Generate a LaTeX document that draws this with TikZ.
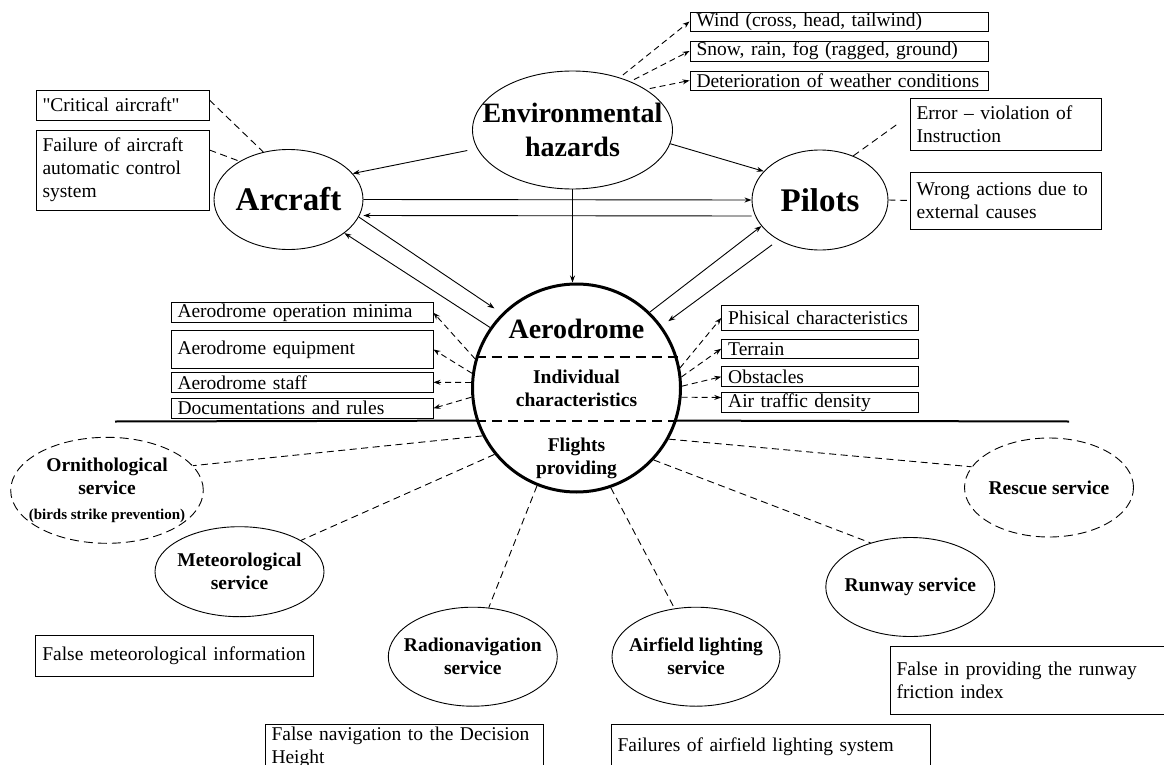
\documentclass[tikz,border=0pt]{standalone}
\usepackage{fontspec}
\setmainfont{Liberation Serif}[Ligatures=TeXOff]
\usetikzlibrary{arrows.meta, positioning, calc, shapes.geometric}

\begin{document}
\begin{tikzpicture}[
    x=1pt, y=-1pt,
    >={Stealth[length=7pt,width=5pt]},
    line width=0.9pt,
    hazard/.style={ellipse, draw, inner sep=0pt},
    service/.style={ellipse, draw, inner sep=0pt, minimum width=169pt, minimum height=99pt},
    optional/.style={dash pattern=on 9pt off 5pt},
    box/.style={draw, inner xsep=6.5pt, inner ysep=0pt, align=left, font=\fontsize{19.5}{23}\selectfont},
    big title/.style={font=\bfseries\fontsize{33}{38}\selectfont},
    mid title/.style={font=\bfseries\fontsize{28}{34}\selectfont, align=center},
    small title/.style={font=\bfseries\fontsize{19.5}{23}\selectfont, align=center},
    link/.style={dash pattern=on 7pt off 4.5pt},
    factor arrow/.style={->, dash pattern=on 6pt off 4pt}
]
    \clip (0,0) rectangle (1164,765);

    % Main elements
    \node[hazard, minimum width=200pt, minimum height=118pt] (env) at (572.5,130) {};
    \node[mid title] at (env) {Environmental\\hazards};
    \node[hazard, minimum width=149pt, minimum height=100pt] (arc) at (288.5,199.5) {};
    \node[big title] at (arc) {Arcraft};
    \node[hazard, minimum width=136pt, minimum height=100pt] (pil) at (820,200) {};
    \node[big title] at (pil) {Pilots};
    \node[circle, draw, line width=3pt, minimum size=208pt, inner sep=0pt] (aero) at (576.5,388) {};
    \node[mid title] at (576.5,329) {Aerodrome};
    \node[small title] at (576.5,388) {Individual\\characteristics};
    \node[small title] at (576.5,458) {Flights\\providing};

    % Parts of the aerodrome
    \draw[line width=2pt, dash pattern=on 10pt off 6pt] (aero.163.2) -- (aero.16.8 |- aero.163.2);
    \draw[line width=2pt, dash pattern=on 10pt off 6pt] (aero.198.8) -- (aero.-18.8 |- aero.198.8);
    \coordinate (div west) at (115,421.5);
    \coordinate (div east) at (1069,421.5);
    \draw[line width=2pt] (div west) -- (aero.198.8);
    \draw[line width=2pt] (aero.-18.8) -- (div east);

    % Factor boxes
    \node[box, text width=285pt, minimum height=19pt] (wind) at (839,21.5) {Wind (cross, head, tailwind)};
    \node[box, text width=285pt, minimum height=20pt] (snow) at (839,51) {Snow, rain, fog (ragged, ground)};
    \node[box, text width=285pt, minimum height=19pt] (deter) at (839,80.5) {Deterioration of weather conditions};
    \node[box, text width=160pt, minimum height=30pt] (crit) at (122.5,105) {"Critical aircraft"};
    \node[box, text width=160pt, minimum height=80pt] (fail) at (122.5,170) {Failure of aircraft\\automatic control\\system};
    \node[box, text width=178pt, minimum height=52pt] (err) at (1005.5,124) {Error – violation of\\Instruction};
    \node[box, text width=178pt, minimum height=57pt] (wrong) at (1005.5,200.5) {Wrong actions due to\\external causes};
    \node[box, text width=249pt, minimum height=20pt] (minima) at (302,312.7) {Aerodrome operation minima};
    \node[box, text width=249pt, minimum height=37.6pt] (equip) at (302,349.5) {Aerodrome equipment};
    \node[box, text width=249pt, minimum height=20pt] (staff) at (302,382.3) {Aerodrome staff};
    \node[box, text width=249pt, minimum height=20pt] (docs) at (302,408.3) {Documentations and rules};
    \node[box, text width=183.6pt, minimum height=25.7pt] (phys) at (820,317.9) {Phisical characteristics};
    \node[box, text width=183.6pt, minimum height=19.3pt] (terrain) at (820,348.7) {Terrain};
    \node[box, text width=183.6pt, minimum height=20pt] (obst) at (820,376.7) {Obstacles};
    \node[box, text width=183.6pt, minimum height=19.6pt] (traffic) at (820,402.5) {Air traffic density};

    % Environmental factors
    \draw[factor arrow, shorten <=4pt] (env.48.5) -- (wind.west);
    \draw[factor arrow, shorten <=4pt] (env.40.3) -- (snow.west);
    \draw[factor arrow, shorten <=4pt] (env.29) -- (deter.west);

    % Aircraft and pilot factors
    \draw[link] ([yshift=5pt]crit.east) -- (arc.118.7);
    \draw[link] ([yshift=20pt]fail.east) -- (arc.142);
    \draw[link] (pil.53.7) -- ([xshift=-12pt]err.west);
    \draw[link] (pil.east) -- (wrong.west);

    % Interactions
    \draw[->, shorten <=10pt] (env.191) -- (arc.22);
    \draw[->] (env.-8.3) -- (pil.153);
    \draw[->] (env.south) -- (env.south |- aero.north);
    \draw[->] (arc.east) -- (pil.west);
    \draw[->] ([yshift=-16pt]pil.west) -- ([yshift=-16pt]arc.east);
    \draw[->, shorten >=9pt] (arc.-14.3) -- (aero.135);
    \draw[->] (aero.145.7) -- (arc.-31.2);
    \draw[->] (aero.46.3) -- (pil.204);
    \draw[->, shorten <=8pt, shorten >=8pt] (pil.224.4) -- (aero.36.9);

    % Individual characteristics
    \draw[factor arrow] (aero.164.6) -- (minima.east);
    \draw[factor arrow] (aero.172.8) -- (equip.east);
    \draw[factor arrow] (aero.177) -- (staff.east);
    \draw[factor arrow] (aero.185.3) -- (docs.east);
    \draw[factor arrow] (aero.11.6) -- (phys.west);
    \draw[factor arrow] (aero.6.1) -- (terrain.west);
    \draw[factor arrow] (aero.1.6) -- (obst.west);
    \draw[factor arrow] (aero.-5) -- ([yshift=5pt]traffic.west);

    % Services
    \node[service, optional, minimum width=192.6pt, minimum height=106pt] (orn) at (107,490.3) {};
    \node[small title] at (orn) {Ornithological\\service\\[2pt]{\fontsize{15}{23}\selectfont (birds strike prevention)}};
    \node[service, minimum height=90pt] (met) at (239.5,571.7) {};
    \node[small title] at (met) {Meteorological\\service};
    \node[service] (radio) at (472.8,656.7) {};
    \node[small title] at (radio) {Radionavigation\\service};
    \node[service, minimum width=168pt] (light) at (696,656.7) {};
    \node[small title] at (light) {Airfield lighting\\service};
    \node[service] (runway) at (910.3,587) {};
    \node[small title] at (runway) {Runway service};
    \node[service, optional] (rescue) at (1049,487.5) {};
    \node[small title] at (rescue) {Rescue service};

    \draw[link] (aero.207.7) -- (orn.16);
    \draw[link] (aero.219.8) -- (met.27.5);
    \draw[link] (aero.248.8) -- (radio.72.8);
    \draw[link] (aero.289.6) -- (light.114.9);
    \draw[link] (aero.317.5) -- (runway.132.8);
    \draw[link] (aero.331.3) -- (rescue.165.9);

    % Service failures
    \node[box, text width=265pt, minimum height=41pt] (metinfo) at (174.8,655.5) {False meteorological information};
    \node[box, text width=265pt, minimum height=46pt] (navinfo) at (404,747) {False navigation to the Decision\\Height};
    \node[box, text width=306pt, minimum height=46pt] (lightinfo) at (770.5,747) {Failures of airfield lighting system};
    \node[box, text width=263pt, minimum height=67.3pt] (runinfo) at (1028,680.3) {False in providing the runway\\friction index};

\end{tikzpicture}
\end{document}
